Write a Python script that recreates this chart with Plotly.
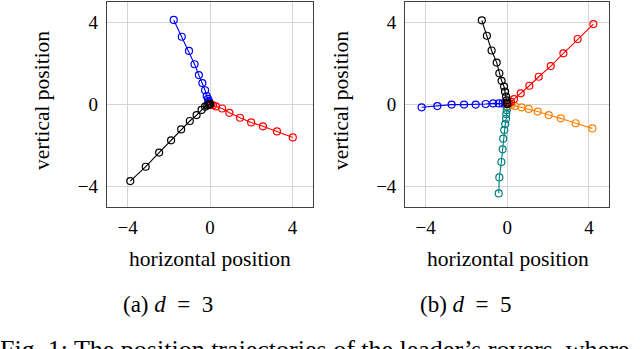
import plotly.graph_objects as go

# (a) d = 3
a_blue_x = [-1.76, -1.37, -1.02, -0.75, -0.54, -0.37, -0.24, -0.16, -0.1, -0.06, -0.03, -0.01, 0]
a_blue_y = [4.1, 3.28, 2.59, 1.94, 1.41, 1.02, 0.67, 0.39, 0.25, 0.15, 0.08, 0.03, 0]
a_red_x = [0, 0.02, 0.06, 0.15, 0.29, 0.59, 0.94, 1.46, 2.0, 2.57, 3.25, 4.02]
a_red_y = [0, -0.01, -0.03, -0.06, -0.12, -0.22, -0.43, -0.67, -0.9, -1.09, -1.34, -1.63]
a_black_x = [-3.87, -3.12, -2.47, -1.89, -1.4, -0.98, -0.65, -0.41, -0.24, -0.13, -0.07, -0.03, 0]
a_black_y = [-3.76, -3.06, -2.37, -1.77, -1.24, -0.83, -0.54, -0.29, -0.13, -0.07, -0.04, -0.02, 0]

# (b) d = 5
b_black_x = [-1.25, -1.0, -0.77, -0.52, -0.39, -0.28, -0.16, -0.11, -0.06, -0.03, -0.01, 0]
b_black_y = [4.08, 3.33, 2.61, 2.02, 1.5, 1.13, 0.85, 0.6, 0.36, 0.18, 0.07, 0]
b_blue_x = [-4.2, -3.43, -2.73, -2.12, -1.55, -1.06, -0.69, -0.42, -0.23, -0.1, -0.04, 0]
b_blue_y = [-0.16, -0.1, -0.03, -0.03, -0.03, 0, 0.03, 0.03, 0.03, 0.02, 0.01, 0]
b_teal_x = [-0.42, -0.39, -0.29, -0.23, -0.2, -0.15, -0.1, -0.06, -0.05, -0.03, -0.01, 0]
b_teal_y = [-4.36, -3.58, -2.83, -2.21, -1.69, -1.27, -0.98, -0.72, -0.49, -0.3, -0.14, 0]
b_red_x = [0, 0.07, 0.18, 0.33, 0.66, 1.08, 1.54, 2.13, 2.75, 3.45, 4.22]
b_red_y = [0, 0.04, 0.1, 0.24, 0.52, 0.89, 1.33, 1.85, 2.47, 3.17, 3.9]
b_orange_x = [0, 0.08, 0.2, 0.38, 0.7, 1.05, 1.49, 2.03, 2.62, 3.35, 4.17]
b_orange_y = [0, -0.02, -0.05, -0.1, -0.16, -0.24, -0.37, -0.54, -0.7, -0.94, -1.19]

ticks = [-4, 0, 4]

W, H = 640, 349
FONT = "Liberation Serif"


def px(x):
    return x / W


def py(y):
    return 1 - y / H


def add_path(fig, xs, ys, color, ax):
    fig.add_trace(go.Scatter(
        x=xs, y=ys, mode="lines+markers", xaxis="x" + ax, yaxis="y" + ax,
        line=dict(color=color, width=1.1),
        marker=dict(symbol="circle-open", size=7, color=color, line=dict(width=1.2)),
        showlegend=False, hoverinfo="skip",
    ))


fig = go.Figure()
add_path(fig, a_blue_x, a_blue_y, "#0000ff", "")
add_path(fig, a_red_x, a_red_y, "#ff0000", "")
add_path(fig, a_black_x, a_black_y, "#000000", "")
add_path(fig, b_blue_x, b_blue_y, "#0000ff", "2")
add_path(fig, b_teal_x, b_teal_y, "#008080", "2")
add_path(fig, b_orange_x, b_orange_y, "#ff8000", "2")
add_path(fig, b_red_x, b_red_y, "#ff0000", "2")
add_path(fig, b_black_x, b_black_y, "#000000", "2")

axis_style = dict(
    range=[-5, 5], tickvals=ticks, showgrid=True, gridcolor="#d4d4d4", gridwidth=1,
    zeroline=False, showline=True, mirror=True, linecolor="#404040", linewidth=1.3,
    ticks="", tickfont=dict(family=FONT, size=19, color="black"),
    ticklabelstandoff=4,
)
ydom = [py(206.5), py(1.5)]
fig.update_layout(
    width=W, height=H, margin=dict(l=0, r=0, t=0, b=0),
    paper_bgcolor="white", plot_bgcolor="white",
    xaxis=dict(domain=[px(107), px(313)], anchor="y", **axis_style),
    yaxis=dict(domain=ydom, anchor="x", **axis_style),
    xaxis2=dict(domain=[px(405.3), px(609.3)], anchor="y2", **axis_style),
    yaxis2=dict(domain=ydom, anchor="x2", **axis_style),
)

texts = [
    ("vertical position", 42, 101, -90, 21.5),
    ("vertical position", 341, 101, -90, 21.5),
    ("horizontal position", 210, 259, 0, 21.5),
    ("horizontal position", 508, 259, 0, 21.5),
    ("(a) <i>d</i>\u2002=\u20023", 168, 304, 0, 23),
    ("(b) <i>d</i>\u2002=\u20025", 466, 304, 0, 23),
]
for t, x, y, ang, size in texts:
    fig.add_annotation(
        text=t, x=px(x), y=py(y), xref="paper", yref="paper", showarrow=False,
        textangle=ang, xanchor="center", yanchor="middle",
        font=dict(family=FONT, size=size, color="black"),
    )
# caption line below, cut off by the bottom edge as in the source
fig.add_annotation(
    text="Fig. 1: The position trajectories of the leader\u2019s rovers, where",
    x=px(-2), y=py(333), xref="paper", yref="paper", showarrow=False,
    xanchor="left", yanchor="top",
    font=dict(family=FONT, size=26, color="black"),
)

fig.write_html("out.html", config={"displayModeBar": False},
               post_script="document.body.style.margin='0';")
